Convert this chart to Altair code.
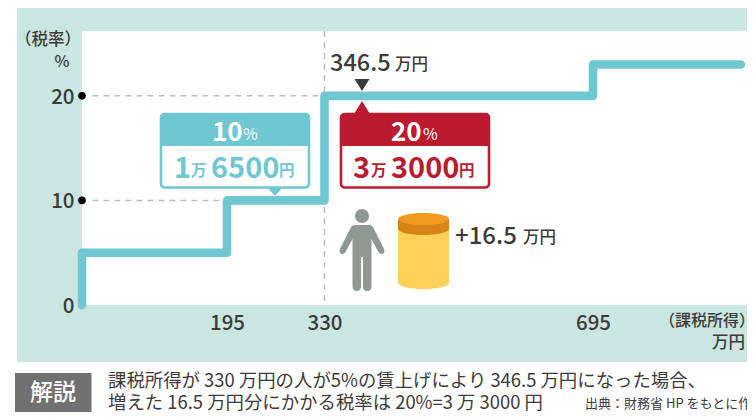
import altair as alt
import pandas as pd

# ---- data ----
income_steps = [0, 0, 195, 195, 330, 330, 695, 695, 905]
rate_steps = [0, 5, 5, 10, 10, 20, 20, 23, 23]
x_ticks = [195, 330, 695]
y_ticks = [0, 10, 20]
guide_rates = [10, 20]
guide_start = [14, 14]
guide_end = [195, 330]
raised_income = 346.5

FONT = "Noto Sans CJK JP"
INK = "#3e3a39"
BLUE = "#6fc7d1"
RED = "#bb1a30"
TEAL = "#cae6e0"
X0, Y0 = 82, 31   # page position of plot origin

x_scale = alt.Scale(domain=[0, 195, 330, 346.5, 695, 905], range=[0, 145, 242.5, 280, 511, 659], clamp=False)
y_scale = alt.Scale(domain=[0, 26.2], range=[274, 0], nice=False)

def X(px):
    return alt.value(px - X0)

def Y(py):
    return alt.value(py - Y0)

blank = alt.Chart(alt.Data(values=[{"a": 0}]))

def box(x1, y1, x2, y2, **kw):
    return blank.mark_rect(**kw).encode(x=X(x1), x2=X(x2), y=Y(y1), y2=Y(y2))

def txt(s, x, y, size, color=INK, align="left", weight=500):
    return blank.mark_text(text=s, font=FONT, fontSize=size, fontWeight=weight, color=color,
                           align=align, baseline="middle").encode(x=X(x), y=Y(y))

def glyph(path, x, y, color):
    return blank.mark_point(shape=path, size=4, filled=True, color=color, opacity=1, strokeWidth=0).encode(x=X(x), y=Y(y))

line_df = pd.DataFrame({"x": income_steps, "y": rate_steps, "o": range(len(income_steps))})
guide_df = pd.DataFrame({"y": guide_rates, "x": guide_start, "x2": guide_end})
tick_df = pd.DataFrame({"x": x_ticks})
ytick_df = pd.DataFrame({"y": y_ticks})
dot_df = pd.DataFrame({"y": guide_rates, "x": [0, 0]})

xax = alt.Axis(values=x_ticks, title=None, domain=False, ticks=False, grid=False, labelFont=FONT, labelFontSize=20.5,
               labelFontWeight=500, labelColor=INK, labelPadding=8.5, labelBaseline="top", zindex=1, labelOverlap=False)
yax = alt.Axis(values=y_ticks, title=None, domain=False, ticks=False, grid=False, labelFont=FONT, labelFontSize=20.5,
               labelFontWeight=500, labelColor=INK, labelPadding=8, labelOffset=1.5, zindex=1, labelOverlap=False)

panel = box(17, 8, 747, 362, color=TEAL)
white = box(82, 31, 747, 305, color="#ffffff")

axes_layer = alt.Chart(tick_df).mark_rule(opacity=0).encode(
    x=alt.X("x:Q", scale=x_scale, axis=xax),
)
yaxes_layer = alt.Chart(ytick_df).mark_rule(opacity=0).encode(
    y=alt.Y("y:Q", scale=y_scale, axis=yax),
)

dash = dict(color="#bdbdbd", strokeWidth=1.5, strokeDash=[6, 5])
vguide = alt.Chart(pd.DataFrame({"x": [330]})).mark_rule(**dash).encode(x=alt.X("x:Q", scale=x_scale))
hguide = alt.Chart(guide_df).mark_rule(**dash).encode(
    x=alt.X("x:Q", scale=x_scale), x2="x2:Q", y=alt.Y("y:Q", scale=y_scale))
dots = alt.Chart(dot_df).mark_point(filled=True, color="#000000", size=58, opacity=1, strokeWidth=0).encode(
    x=alt.X("x:Q", scale=x_scale), y=alt.Y("y:Q", scale=y_scale))

step = alt.Chart(line_df).mark_line(color=BLUE, strokeWidth=8.6, strokeCap="round", strokeJoin="round").encode(
    x=alt.X("x:Q", scale=x_scale), y=alt.Y("y:Q", scale=y_scale), order="o:Q")

# callouts
blue_tip = glyph("M-8,-1 L8,-1 L0,8 Z", 275, 188, BLUE)
blue_box = box(161, 114, 309, 187.5, fill="#ffffff", stroke=BLUE, strokeWidth=2.6, cornerRadius=4)
blue_head = box(160, 113, 310, 146, color=BLUE, cornerRadiusTopLeft=4, cornerRadiusTopRight=4)
red_tip = glyph("M-8,1 L8,1 L0,-12 Z", 362, 113, RED)
red_box = box(341, 114, 489, 187.5, fill="#ffffff", stroke=RED, strokeWidth=2.6, cornerRadius=4)
red_head = box(340, 113, 490, 146, color=RED, cornerRadiusTopLeft=4, cornerRadiusTopRight=4)
dark_tip = alt.Chart(pd.DataFrame({"x": [raised_income]})).mark_point(
    shape="M-7.5,-6 L7.5,-6 L0,6 Z", size=4, filled=True, color=INK, opacity=1, strokeWidth=0
).encode(x=alt.X("x:Q", scale=x_scale), y=Y(85))

# person + cylinder
head = blank.mark_point(filled=True, color="#8f9893", size=201, opacity=1, strokeWidth=0).encode(x=X(362), y=Y(216))
person = glyph("M-7,-33 L7,-33 Q10,-33 11,-31 L22,-9 Q23.5,-5 20.5,-4 Q18,-3.5 16.5,-6 L9.5,-19 L9.5,28 Q9.5,33 5,33 "
               "Q1,33 1,28 L1,-1 L-1,-1 L-1,28 Q-1,33 -5,33 Q-9.5,33 -9.5,28 L-9.5,-19 L-16.5,-6 Q-18,-3.5 -20.5,-4 "
               "Q-23.5,-5 -22,-9 L-11,-31 Q-10,-33 -7,-33 Z", 362, 258, "#8f9893")
can_body = glyph("M-25.5,-31 L-25.5,33 A25.5,6 0 0 0 25.5,33 L25.5,-31 Z", 423.5, 250, "#fdd05a")
can_band = glyph("M-25.5,-31 L-25.5,-21 A25.5,6 0 0 0 25.5,-21 L25.5,-31 Z", 423.5, 250, "#d98416")
can_top = glyph("M-25.5,-31 A25.5,6 0 1 1 25.5,-31 A25.5,6 0 1 1 -25.5,-31 Z", 423.5, 250, "#f39a1e")

texts = [
    txt("（税率）", 48, 40, 16.5, align="center"),
    txt("%", 62, 62, 16, align="center"),
    txt("346.5", 330, 63.5, 23.5),
    txt("万円", 395, 65, 16.5),
    txt("10", 212, 133, 26, "#ffffff", weight=700),
    txt("%", 243, 135, 16, "#ffffff", weight=400),
    txt("1", 174, 169, 29, BLUE, weight=700),
    txt("万", 191, 171, 15.5, BLUE, weight=700),
    txt("6500", 211, 169, 29, BLUE, weight=700),
    txt("円", 279, 171, 15.5, BLUE, weight=700),
    txt("20", 391, 133, 26, "#ffffff", weight=700),
    txt("%", 423, 135, 16, "#ffffff", weight=400),
    txt("3", 353, 169, 29, RED, weight=700),
    txt("万", 371, 171, 15.5, RED, weight=700),
    txt("3000", 391, 169, 29, RED, weight=700),
    txt("円", 459, 171, 15.5, RED, weight=700),
    txt("+16.5", 455, 236.5, 24),
    txt("万円", 523, 238, 16.5),
    txt("（課税所得）", 707, 321, 16, align="center"),
    txt("万円", 745, 343, 16.5, align="right"),
    txt("解説", 53, 393, 23, "#ffffff", align="center"),
    txt("課税所得が 330 万円の人が5%の賃上げにより 346.5 万円になった場合、", 108, 380.5, 18.4, weight=400),
    txt("増えた 16.5 万円分にかかる税率は 20%=3 万 3000 円", 108, 402.5, 18.4, weight=400),
    txt("出典：財務省 HP をもとに作成", 585, 404, 13, weight=400),
]

gray = box(15, 373, 91.5, 412, color="#727171")

chart = alt.layer(
    panel, white, gray, axes_layer, yaxes_layer, vguide, hguide, dots, step,
    blue_tip, blue_box, blue_head, red_tip, red_box, red_head, dark_tip,
    head, person, can_body, can_band, can_top, *texts
).properties(
    width=665, height=274,
    padding={"left": 74, "top": 23, "right": 0, "bottom": 107},
    autosize=alt.AutoSizeParams(type="none"),
    background="#ffffff",
).configure_view(stroke=None)

chart.save("out.html", embed_options={"renderer": "svg", "actions": False})
